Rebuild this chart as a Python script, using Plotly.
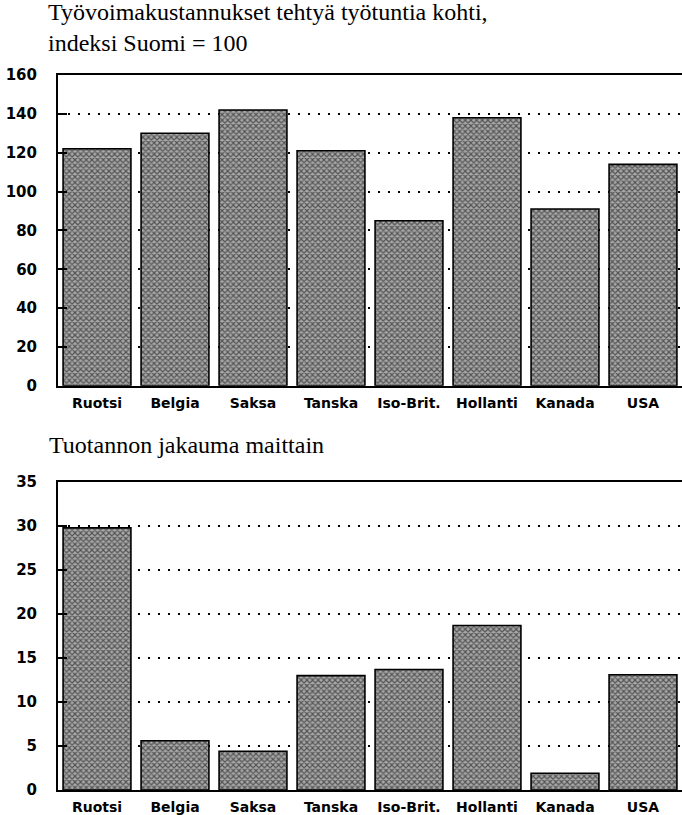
import plotly.graph_objects as go

countries = ["Ruotsi", "Belgia", "Saksa", "Tanska", "Iso-Brit.", "Hollanti", "Kanada", "USA"]
labour_cost_index = [122, 130, 142, 121, 85, 138, 91, 114]
production_share = [29.8, 5.6, 4.4, 13.0, 13.7, 18.7, 1.9, 13.1]

title_top = "Työvoimakustannukset tehtyä työtuntia kohti,<br>indeksi Suomi = 100"
title_bottom = "Tuotannon jakauma maittain"

W, H = 682, 815
ML, MR, MT, MB = 58, 0, 75, 20
PH = H - MT - MB
PW = W - ML - MR

def py(y):
    return (H - MB - y) / PH

def px(x):
    return (x - ML) / PW

bar_style = dict(
    color="#808080",
    line=dict(color="black", width=1.6),
    pattern=dict(shape="x", fgcolor="black", bgcolor="#a8a8a8", size=4, solidity=0.5),
)

fig = go.Figure()
fig.add_trace(go.Bar(x=countries, y=labour_cost_index, marker=bar_style, xaxis="x", yaxis="y"))
fig.add_trace(go.Bar(x=countries, y=production_share, marker=bar_style, xaxis="x2", yaxis="y2"))

xcommon = dict(
    showline=True, mirror=True, linecolor="black", linewidth=2,
    ticks="", showgrid=False,
    tickfont=dict(family="DejaVu Sans", size=14, color="black", weight="bold"),
    ticklabelstandoff=3,
    range=[-0.5, 7.5], fixedrange=True,
)
ycommon = dict(
    showline=True, linecolor="black", linewidth=2,
    ticks="inside", ticklen=9, tickwidth=1.5, tickcolor="black",
    showgrid=True, gridcolor="black", gridwidth=2, griddash="2px,8px",
    zeroline=False,
    tickfont=dict(family="DejaVu Sans", size=15, color="black", weight="bold"),
    ticklabelstandoff=16,
)

title_font = dict(family="Liberation Serif", size=24, color="black")

fig.update_layout(
    width=W, height=H,
    margin=dict(l=ML, r=MR, t=MT, b=MB),
    paper_bgcolor="white", plot_bgcolor="white",
    showlegend=False, bargap=0.13,
    xaxis=dict(xcommon, anchor="y", domain=[0, 1]),
    yaxis=dict(ycommon, anchor="x", domain=[py(388), 1.0], range=[0, 160], dtick=20),
    xaxis2=dict(xcommon, anchor="y2", domain=[0, 1]),
    yaxis2=dict(ycommon, anchor="x2", domain=[0, py(485)], range=[0, 35], dtick=5),
    annotations=[
        dict(text=title_top, xref="paper", yref="paper", x=px(46), y=py(-4),
             xanchor="left", yanchor="top", align="left", showarrow=False,
             font=title_font),
        dict(text=title_bottom, xref="paper", yref="paper", x=px(47), y=py(432),
             xanchor="left", yanchor="top", align="left", showarrow=False,
             font=title_font),
    ],
)

fig.write_html("out.html", config={"displayModeBar": False},
               post_script="document.body.style.margin='0px';")
